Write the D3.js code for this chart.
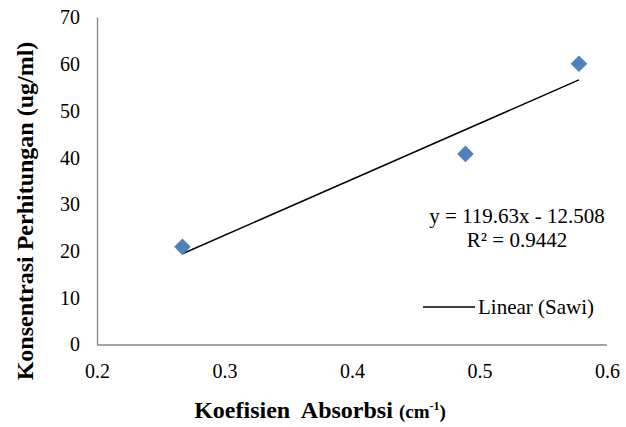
<!DOCTYPE html>
<html>
<head>
  <meta charset="utf-8">
  <title>Sawi</title>
  <script src="https://d3js.org/d3.v7.min.js"></script>
<style type="text/css">
body { margin: 0; background: #fff; }
svg text { font-family: 'Liberation Serif', 'Times New Roman', serif; fill: #000; }
.tick text { font-size: 20px; }
.axis path { stroke: #868686; stroke-width: 1.3; }
.axis line { display: none; }
</style>
</head>
<body>
<svg id="chart" width="626" height="427"></svg>
<script type="text/javascript">

// data
let absorbsi = [0.267, 0.489, 0.578];
let konsentrasi = [20.9, 40.8, 60.1];
let xTicks = [0.2, 0.3, 0.4, 0.5, 0.6];
let yTicks = [0, 10, 20, 30, 40, 50, 60, 70];
let slope = 119.63, intercept = -12.508;

let svg = d3.select('#chart');

let x = d3.scaleLinear().domain([0.2, 0.6]).range([97, 607]);
let y = d3.scaleLinear().domain([0, 70]).range([344.5, 17.5]);

let xAxis = svg.append('g')
  .attr('class', 'axis')
  .attr('transform', 'translate(0,344.5)')
  .call(d3.axisBottom(x).tickValues(xTicks).tickFormat(d3.format('.1f')).tickSize(0).tickPadding(19));
xAxis.select('.domain').attr('d', 'M97,0.5H607');

let yAxis = svg.append('g')
  .attr('class', 'axis')
  .attr('transform', 'translate(97,0)')
  .call(d3.axisLeft(y).tickValues(yTicks).tickSize(0).tickPadding(17));
yAxis.select('.domain').attr('d', 'M0.5,345V17.5');

svg.selectAll('.axis').attr('font-family', null).attr('font-size', null);

// trendline
let x0 = d3.min(absorbsi), x1 = d3.max(absorbsi);
svg.append('line')
  .attr('x1', x(x0)).attr('y1', y(slope * x0 + intercept))
  .attr('x2', x(x1)).attr('y2', y(slope * x1 + intercept))
  .attr('stroke', '#000').attr('stroke-width', 1.5);

// points
svg.selectAll('path.pt')
  .data(absorbsi)
  .enter()
  .append('path')
  .attr('class', 'pt')
  .attr('d', d3.symbol().type(d3.symbolDiamond2).size(175))
  .attr('transform', (d, i) => 'translate(' + x(d) + ',' + y(konsentrasi[i]) + ')')
  .attr('fill', '#4F81BD');

// equation
svg.append('text').attr('x', 517).attr('y', 223).attr('text-anchor', 'middle')
  .style('font-size', '21px').text('y = 119.63x - 12.508');
svg.append('text').attr('x', 517).attr('y', 247).attr('text-anchor', 'middle')
  .style('font-size', '21px').text('R² = 0.9442');

// legend
svg.append('line').attr('x1', 423).attr('x2', 475).attr('y1', 307).attr('y2', 307)
  .attr('stroke', '#000').attr('stroke-width', 1.5);
svg.append('text').attr('x', 478).attr('y', 314)
  .style('font-size', '21px').text('Linear (Sawi)');

// axis titles
svg.append('text')
  .attr('transform', 'translate(33,211) rotate(-90)')
  .attr('text-anchor', 'middle')
  .style('font-size', '24px').style('font-weight', 'bold')
  .text('Konsentrasi Perhitungan (ug/ml)');

let xt = svg.append('text')
  .attr('x', 320).attr('y', 418)
  .attr('text-anchor', 'middle')
  .style('font-weight', 'bold');
xt.append('tspan').style('font-size', '24px').text('Koefisien\u00a0 Absorbsi ');
xt.append('tspan').style('font-size', '19px').text('(cm');
xt.append('tspan').style('font-size', '12px').attr('dy', -8).text('-1');
xt.append('tspan').style('font-size', '19px').attr('dy', 8).text(')');

</script>
</body>
</html>
